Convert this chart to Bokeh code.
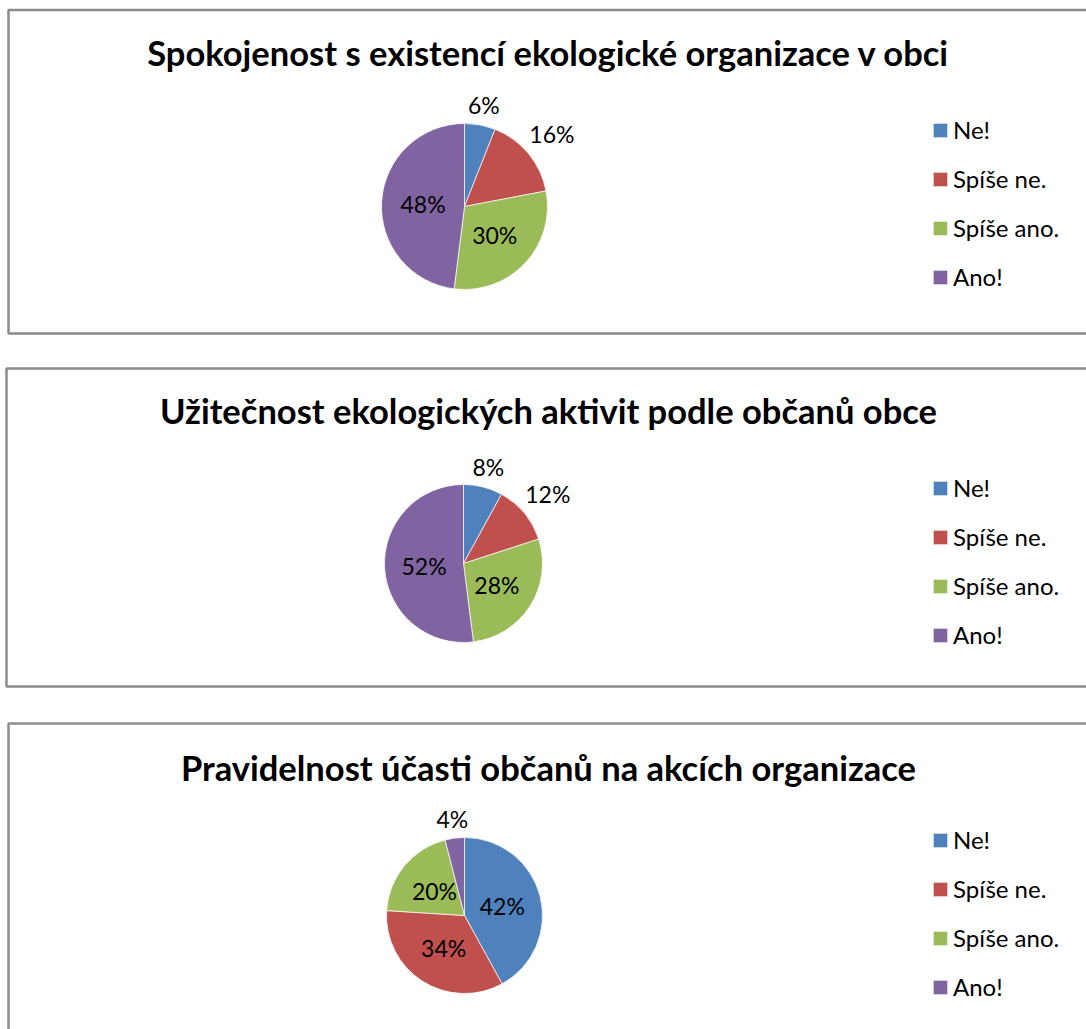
import math
from bokeh.plotting import figure
from bokeh.models import Range1d, Legend, LegendItem, ColumnDataSource
from bokeh.core.properties import value
from bokeh.embed import file_html
from bokeh.resources import INLINE

# ---------------- data ----------------
titles = [
    "Spokojenost s existencí ekologické organizace v obci",
    "Užitečnost ekologických aktivit podle občanů obce",
    "Pravidelnost účasti občanů na akcích organizace",
]
categories = ["Ne!", "Spíše ne.", "Spíše ano.", "Ano!"]
values_1 = [6, 16, 30, 48]
values_2 = [8, 12, 28, 52]
values_3 = [42, 34, 20, 4]
all_values = [values_1, values_2, values_3]
colors = ["#4F81BD", "#C0504D", "#9BBB59", "#8064A2"]

# ---------------- layout (page pixels, y down) ----------------
W, H = 1086, 1029
panels = [  # left, top, bottom
    (8, 9.5, 333),
    (6, 368, 686),
    (8, 723, 1045),
]
pie_geo = [(464, 206, 83), (463, 563, 79), (464, 915, 78)]
title_mid = [52, 410, 767]
legend_first_center = [133, 491, 843]
LEG_X = 931
FONT = "Lato"

def Y(py):
    return H - py

p = figure(width=W, height=H, output_backend="svg", toolbar_location=None,
           x_range=Range1d(0, W), y_range=Range1d(0, H),
           min_border=0, x_axis_location=None, y_axis_location=None)
p.grid.visible = False
p.outline_line_color = None
p.background_fill_color = "white"
p.border_fill_color = "white"

# panel frames
p.quad(left=[pl[0] for pl in panels], right=[W + 10] * 3,
       top=[Y(pl[1]) for pl in panels], bottom=[Y(pl[2]) for pl in panels],
       fill_color=None, line_color="#8C8C8C", line_width=2.5)

for k in range(3):
    vals = all_values[k]
    total = float(sum(vals))
    cx, cy, r = pie_geo[k]
    starts, ends, lx, ly, labels = [], [], [], [], []
    cum = 0.0
    for v in vals:
        f0 = cum / total
        f1 = (cum + v) / total
        starts.append(math.pi / 2 - 2 * math.pi * f0)
        ends.append(math.pi / 2 - 2 * math.pi * f1)
        mid = 2 * math.pi * (f0 + f1) / 2  # clockwise from 12 o'clock
        ux, uy = math.sin(mid), math.cos(mid)  # uy up
        lab = f"{v}%"
        if v < 18:
            hw = len(lab) * 7.4
            hh = 11.5
            d = r + 6 + abs(ux) * hw + abs(uy) * hh
        else:
            d = 0.5 * r
        lx.append(cx + ux * d)
        ly.append(Y(cy) + uy * d)
        labels.append(lab)
        cum += v
    src = ColumnDataSource(dict(start=starts, end=ends, color=colors,
                                cat=categories))
    wr = p.wedge(x=cx, y=Y(cy), radius=r, start_angle="start", end_angle="end",
                 direction="clock", fill_color="color", line_color="white",
                 line_width=0.7, source=src)
    p.text(x=lx, y=ly, text=labels, text_font=value(FONT),
           text_font_size="23px", text_align="center",
           text_baseline="middle", text_color="black")
    p.text(x=[548], y=[Y(title_mid[k])], text=[titles[k]],
           text_font=value(FONT), text_font_size="34.5px",
           text_font_style="bold", text_align="center",
           text_baseline="middle", text_color="black")
    items = [LegendItem(label=categories[i], renderers=[wr], index=i)
             for i in range(4)]
    item_h = 28
    spacing = 20
    top_px = legend_first_center[k] - item_h / 2
    bottom_px = top_px + 4 * item_h + 3 * spacing
    leg = Legend(items=items, location=(LEG_X, Y(bottom_px)),
                 orientation="vertical", glyph_width=18, glyph_height=18,
                 label_height=item_h, label_standoff=4, spacing=spacing,
                 padding=0, margin=0, border_line_color=None,
                 background_fill_color=None,
                 label_text_font=FONT, label_text_font_size="24px",
                 label_text_color="black", label_text_baseline="middle")
    p.add_layout(leg, "center")

open("out.html", "w").write(file_html(p, INLINE))
